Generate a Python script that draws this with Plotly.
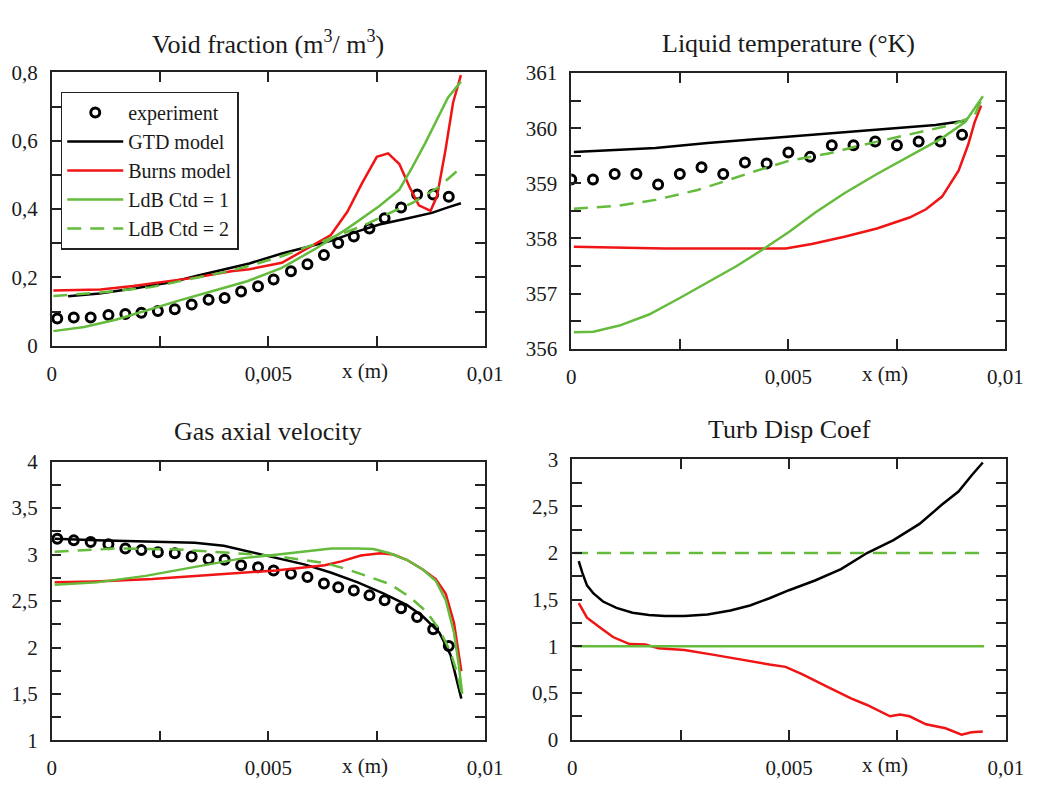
import plotly.graph_objects as go

# ---------------- data ----------------
# experimental stations (void fraction and gas velocity share the same grid)
EXP_X = [0.00013, 0.00051, 0.0009, 0.00131, 0.0017, 0.00207, 0.00245, 0.00284, 0.00323,
         0.00362, 0.00399, 0.00437, 0.00476, 0.00512, 0.00552, 0.0059, 0.00628, 0.00661,
         0.00697, 0.00733, 0.00768, 0.00806, 0.00843, 0.0088, 0.00916]
EXP_VOID = [0.080, 0.083, 0.083, 0.090, 0.093, 0.097, 0.102, 0.107, 0.121, 0.135, 0.140,
            0.159, 0.174, 0.194, 0.218, 0.239, 0.266, 0.301, 0.320, 0.343, 0.373, 0.405,
            0.443, 0.443, 0.436]
EXP_VEL = [3.170, 3.153, 3.135, 3.111, 3.066, 3.048, 3.024, 3.014, 2.979, 2.951, 2.944,
           2.885, 2.864, 2.829, 2.795, 2.760, 2.690, 2.648, 2.613, 2.561, 2.509, 2.422,
           2.328, 2.196, 2.015]
EXP_T_X = [0.0, 0.0005, 0.001, 0.0015, 0.002, 0.0025, 0.003, 0.0035, 0.004, 0.0045,
           0.005, 0.0055, 0.006, 0.0065, 0.007, 0.0075, 0.008, 0.0085, 0.009]
EXP_TEMP = [359.07, 359.07, 359.17, 359.17, 358.98, 359.17, 359.29, 359.17, 359.38, 359.36,
            359.56, 359.48, 359.69, 359.69, 359.76, 359.69, 359.76, 359.76, 359.88]

# void fraction models
GTD_VOID_X = [0.00038, 0.0011, 0.0019, 0.00278, 0.00338, 0.00414, 0.00456, 0.00531, 0.00599,
              0.00644, 0.00704, 0.00756, 0.00817, 0.00877, 0.00914, 0.00944]
GTD_VOID = [0.145, 0.153, 0.168, 0.187, 0.206, 0.230, 0.241, 0.270, 0.291, 0.307, 0.334,
            0.355, 0.372, 0.389, 0.405, 0.417]
BURNS_VOID_X = [0.00004, 0.00113, 0.00188, 0.00263, 0.00338, 0.00414, 0.00456, 0.00531,
                0.00591, 0.00644, 0.00682, 0.00716, 0.0075, 0.00776, 0.00802, 0.00825,
                0.00847, 0.00874, 0.00889, 0.00908, 0.00926, 0.00944]
BURNS_VOID = [0.162, 0.165, 0.175, 0.187, 0.201, 0.218, 0.224, 0.243, 0.285, 0.324, 0.392,
              0.476, 0.553, 0.563, 0.532, 0.466, 0.411, 0.395, 0.438, 0.570, 0.712, 0.792]
LDB1_VOID_X = [0.00004, 0.00075, 0.0015, 0.00226, 0.00301, 0.00376, 0.00451, 0.00531, 0.00606,
               0.00682, 0.00756, 0.00802, 0.00832, 0.00862, 0.00892, 0.00914, 0.00944]
LDB1_VOID = [0.043, 0.055, 0.077, 0.107, 0.135, 0.162, 0.189, 0.228, 0.282, 0.343, 0.409,
             0.457, 0.523, 0.594, 0.669, 0.726, 0.773]
LDB2_VOID_X = [0.00004, 0.00113, 0.00226, 0.00338, 0.00414, 0.00456, 0.00531, 0.00644,
               0.00719, 0.00779, 0.00832, 0.00892, 0.00944]
LDB2_VOID = [0.146, 0.156, 0.171, 0.201, 0.220, 0.234, 0.262, 0.315, 0.352, 0.388, 0.418,
             0.464, 0.521]

# liquid temperature models
GTD_TEMP_X = [0.00006, 0.00096, 0.00194, 0.00314, 0.00426, 0.00502, 0.00644, 0.00742,
              0.00839, 0.00911]
GTD_TEMP = [359.57, 359.60, 359.64, 359.73, 359.80, 359.85, 359.94, 360.00, 360.06, 360.14]
BURNS_TEMP_X = [0.00006, 0.00119, 0.00216, 0.00494, 0.00554, 0.00629, 0.00704, 0.00779,
                0.00817, 0.00854, 0.00892, 0.00914, 0.00929, 0.00944]
BURNS_TEMP = [357.85, 357.84, 357.82, 357.82, 357.90, 358.03, 358.18, 358.38, 358.53, 358.76,
              359.23, 359.70, 360.11, 360.41]
LDB1_TEMP_X = [0.00006, 0.00051, 0.00111, 0.00179, 0.0025, 0.00329, 0.00381, 0.00441,
               0.00502, 0.00562, 0.00629, 0.00704, 0.00779, 0.00854, 0.00907, 0.00929, 0.00948]
LDB1_TEMP = [356.30, 356.31, 356.42, 356.62, 356.92, 357.27, 357.50, 357.80, 358.12, 358.47,
             358.82, 359.17, 359.50, 359.82, 360.11, 360.35, 360.58]
LDB2_TEMP_X = [0.00006, 0.00104, 0.00194, 0.00291, 0.00366, 0.00411, 0.00502, 0.00592,
               0.00667, 0.00742, 0.00817, 0.00877, 0.00929, 0.00948]
LDB2_TEMP = [358.54, 358.59, 358.70, 358.88, 359.07, 359.19, 359.41, 359.54, 359.69, 359.82,
             359.95, 360.06, 360.23, 360.58]

# gas axial velocity models
GTD_VEL_X = [0.00007, 0.00104, 0.00217, 0.0033, 0.00397, 0.00457, 0.00517, 0.00585, 0.00645,
             0.00706, 0.00766, 0.00819, 0.00856, 0.00894, 0.0092, 0.00935, 0.00945]
GTD_VEL = [3.170, 3.153, 3.142, 3.128, 3.094, 3.031, 2.962, 2.892, 2.805, 2.701, 2.579, 2.458,
           2.336, 2.162, 1.919, 1.641, 1.450]
BURNS_VEL_X = [0.00007, 0.00101, 0.00232, 0.00367, 0.00517, 0.0063, 0.00668, 0.00713, 0.00758,
               0.00788, 0.00819, 0.00856, 0.00886, 0.00909, 0.00928, 0.00945]
BURNS_VEL = [2.701, 2.711, 2.736, 2.778, 2.829, 2.885, 2.927, 2.990, 3.014, 3.000, 2.944,
             2.840, 2.736, 2.579, 2.266, 1.744]
LDB1_VEL_X = [0.00007, 0.00104, 0.00217, 0.0033, 0.00442, 0.00517, 0.00592, 0.00645, 0.00706,
              0.00742, 0.0078, 0.00819, 0.00856, 0.00886, 0.00909, 0.00928, 0.00939, 0.00947]
LDB1_VEL = [2.676, 2.701, 2.771, 2.864, 2.962, 2.997, 3.038, 3.066, 3.066, 3.059, 3.014, 2.944,
            2.840, 2.718, 2.509, 2.162, 1.814, 1.500]
LDB2_VEL_X = [0.00007, 0.00142, 0.00292, 0.00442, 0.00517, 0.00577, 0.0063, 0.00683, 0.00728,
              0.0078, 0.00826, 0.00864, 0.00894, 0.0092, 0.00935, 0.00947]
LDB2_VEL = [3.031, 3.066, 3.055, 3.014, 2.986, 2.944, 2.909, 2.840, 2.771, 2.683, 2.544, 2.388,
            2.196, 1.953, 1.727, 1.485]

# turbulent dispersion coefficient
GTD_TDC_X = [0.00015, 0.00023, 0.00034, 0.00049, 0.00071, 0.00102, 0.00139, 0.00177, 0.00214,
             0.00259, 0.00312, 0.00365, 0.0041, 0.00455, 0.005, 0.0056, 0.0062, 0.0068,
             0.00741, 0.00801, 0.00853, 0.00891, 0.00921, 0.00947]
GTD_TDC = [1.912, 1.791, 1.653, 1.566, 1.480, 1.411, 1.359, 1.335, 1.324, 1.324, 1.342, 1.383,
           1.438, 1.515, 1.601, 1.705, 1.826, 1.999, 2.137, 2.310, 2.517, 2.656, 2.828, 2.967]
BURNS_TDC_X = [0.00015, 0.00034, 0.00064, 0.00094, 0.00132, 0.00169, 0.00199, 0.00259,
               0.00327, 0.00387, 0.00455, 0.00492, 0.0053, 0.0059, 0.00643, 0.0068, 0.00733,
               0.00756, 0.00778, 0.00816, 0.00861, 0.00898, 0.00921, 0.00947]
BURNS_TDC = [1.463, 1.307, 1.203, 1.100, 1.024, 1.020, 0.979, 0.961, 0.909, 0.858, 0.806,
             0.781, 0.702, 0.564, 0.443, 0.373, 0.252, 0.270, 0.252, 0.166, 0.124, 0.055,
             0.080, 0.090]
LDB_TDC_X = [0.00004, 0.0095]
LDB1_TDC = [1.0, 1.0]
LDB2_TDC = [2.0, 2.0]

# axis ticks
X_TICKS = [0.0, 0.0025, 0.005, 0.0075, 0.01]
X_LABELS = ["0", " ", "0,005", " ", "0,01"]
Y1_TICKS = [0.0, 0.1, 0.2, 0.3, 0.4, 0.5, 0.6, 0.7, 0.8]
Y1_LABELS = ["0", " ", "0,2", " ", "0,4", " ", "0,6", " ", "0,8"]
Y2_TICKS = [356, 356.5, 357, 357.5, 358, 358.5, 359, 359.5, 360, 360.5, 361]
Y2_LABELS = ["356", " ", "357", " ", "358", " ", "359", " ", "360", " ", "361"]
Y3_TICKS = [1, 1.25, 1.5, 1.75, 2, 2.25, 2.5, 2.75, 3, 3.25, 3.5, 3.75, 4]
Y3_LABELS = ["1", " ", "1,5", " ", "2", " ", "2,5", " ", "3", " ", "3,5", " ", "4"]
Y4_TICKS = [0, 0.25, 0.5, 0.75, 1, 1.25, 1.5, 1.75, 2, 2.25, 2.5, 2.75, 3]
Y4_LABELS = ["0", " ", "0,5", " ", "1", " ", "1,5", " ", "2", " ", "2,5", " ", "3"]

TITLES = ["Void fraction (m<sup>3</sup>/ m<sup>3</sup>)", "Liquid temperature (°K)",
          "Gas axial velocity", "Turb Disp Coef"]
NAMES = ["experiment", "GTD model", "Burns model", "LdB Ctd = 1", "LdB Ctd = 2"]

# ---------------- styling ----------------
W, H = 1045, 788
FONT = "Liberation Serif"
TXT = "#1a1a1a"
BLACK = "#000000"
RED = "#f01414"
GREEN = "#64bb3c"
LW = 2.5

fig = go.Figure()


def add_panel(idx, exp, gtd, burns, ldb1, ldb2):
    xa = "x" if idx == 1 else f"x{idx}"
    ya = "y" if idx == 1 else f"y{idx}"
    show = idx == 1
    if exp is not None:
        fig.add_trace(go.Scatter(
            x=exp[0], y=exp[1], mode="markers", name=NAMES[0],
            showlegend=show, xaxis=xa, yaxis=ya,
            marker=dict(symbol="circle-open", size=9, color=BLACK, line=dict(width=3, color=BLACK))))
    specs = [(gtd, NAMES[1], BLACK, "solid"), (burns, NAMES[2], RED, "solid"),
             (ldb1, NAMES[3], GREEN, "solid"), (ldb2, NAMES[4], GREEN, "14px,9px")]
    for data, name, col, dash in specs:
        fig.add_trace(go.Scatter(
            x=data[0], y=data[1], mode="lines", name=name,
            showlegend=show, xaxis=xa, yaxis=ya,
            line=dict(color=col, width=LW, dash=dash)))


add_panel(1, (EXP_X, EXP_VOID), (GTD_VOID_X, GTD_VOID), (BURNS_VOID_X, BURNS_VOID),
          (LDB1_VOID_X, LDB1_VOID), (LDB2_VOID_X, LDB2_VOID))
add_panel(2, (EXP_T_X, EXP_TEMP), (GTD_TEMP_X, GTD_TEMP), (BURNS_TEMP_X, BURNS_TEMP),
          (LDB1_TEMP_X, LDB1_TEMP), (LDB2_TEMP_X, LDB2_TEMP))
add_panel(3, (EXP_X, EXP_VEL), (GTD_VEL_X, GTD_VEL), (BURNS_VEL_X, BURNS_VEL),
          (LDB1_VEL_X, LDB1_VEL), (LDB2_VEL_X, LDB2_VEL))
add_panel(4, None, (GTD_TDC_X, GTD_TDC), (BURNS_TDC_X, BURNS_TDC),
          (LDB_TDC_X, LDB1_TDC), (LDB_TDC_X, LDB2_TDC))

# panel frames in pixels: (left, right, top, bottom)
FRAMES = {1: (47.7, 491, 62.3, 344.3), 2: (579, 1023, 63, 347.3),
          3: (47.7, 491, 463.8, 751.3), 4: (580, 1023.3, 461.5, 750.7)}
YSPEC = {1: ([0, 0.8], Y1_TICKS, Y1_LABELS), 2: ([356, 361], Y2_TICKS, Y2_LABELS),
         3: ([1, 4], Y3_TICKS, Y3_LABELS), 4: ([0, 3], Y4_TICKS, Y4_LABELS)}

axis_common = dict(showline=True, linecolor="#222", linewidth=1.5, mirror="allticks",
                   ticks="inside", ticklen=10, tickwidth=1.5, tickcolor="#222",
                   showgrid=False, zeroline=False, ticklabelstandoff=8,
                   tickfont=dict(family=FONT, size=21, color=TXT), fixedrange=True)

layout = {}
annotations = []
for i in range(1, 5):
    l, r, t, b = FRAMES[i]
    xk = "xaxis" if i == 1 else f"xaxis{i}"
    yk = "yaxis" if i == 1 else f"yaxis{i}"
    ya = "y" if i == 1 else f"y{i}"
    xa = "x" if i == 1 else f"x{i}"
    yr, yt, yl = YSPEC[i]
    layout[xk] = dict(domain=[l / W, r / W], range=[0, 0.01], anchor=ya,
                      tickvals=X_TICKS, ticktext=X_LABELS, **axis_common)
    layout[yk] = dict(domain=[1 - b / H, 1 - t / H], range=yr, anchor=xa,
                      tickvals=yt, ticktext=yl, **axis_common)
    # panel title
    annotations.append(dict(text=TITLES[i - 1], xref="paper", yref="paper",
                            x=(l + r) / 2 / W, y=1 - (t - 31) / H, xanchor="center",
                            yanchor="middle", showarrow=False,
                            font=dict(family=FONT, size=26, color=TXT)))
    # x-axis caption
    annotations.append(dict(text="x (m)", xref="paper", yref="paper",
                            x=(l + 0.722 * (r - l)) / W, y=1 - (b + 26) / H,
                            xanchor="center", yanchor="middle", showarrow=False,
                            font=dict(family=FONT, size=21, color=TXT)))

fig.update_layout(
    width=W, height=H, margin=dict(l=0, r=0, t=0, b=0, pad=0), autosize=False,
    paper_bgcolor="white", plot_bgcolor="white",
    annotations=annotations,
    legend=dict(x=57 / W, y=1 - 82 / H, xanchor="left", yanchor="top",
                bgcolor="white", bordercolor="#222", borderwidth=1.5,
                font=dict(family=FONT, size=20, color=TXT), itemwidth=56,
                tracegroupgap=0, traceorder="normal"),
    **layout,
)

fig.write_html("out.html")
